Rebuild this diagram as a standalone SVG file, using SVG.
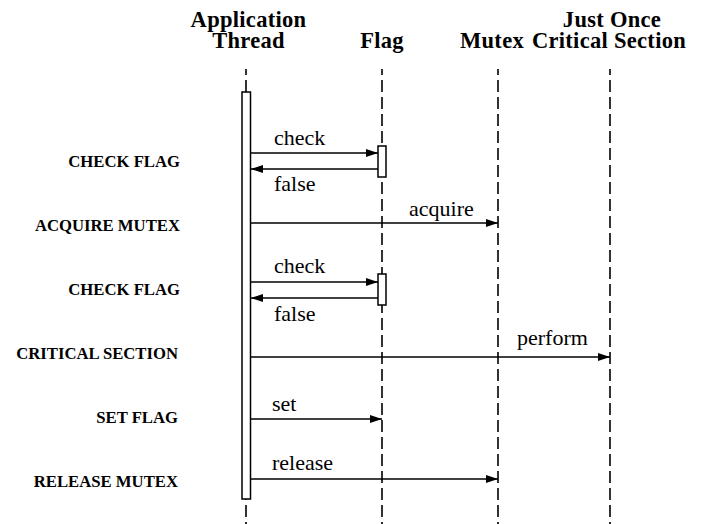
<svg xmlns="http://www.w3.org/2000/svg" width="707" height="524" viewBox="0 0 707 524">
  <style>
    .head { font-family: "Liberation Serif", "Times New Roman", serif; font-weight: bold; font-size: 22.5px; letter-spacing: 0.3px; text-anchor: middle; fill: #000; }
    .step { font-family: "Liberation Serif", "Times New Roman", serif; font-weight: bold; font-size: 16.7px; text-anchor: end; fill: #000; }
    .msg { font-family: "Liberation Serif", "Times New Roman", serif; font-size: 22px; fill: #000; }
    .life { stroke: #000; stroke-width: 1.6; stroke-dasharray: 12 5; stroke-dashoffset: 6; fill: none; }
    .act { fill: #fff; stroke: #000; stroke-width: 1.5; }
    .arrow { stroke: #000; stroke-width: 1.6; fill: none; marker-end: url(#head); }
  </style>
  <defs>
    <marker id="head" markerUnits="userSpaceOnUse" markerWidth="13" markerHeight="9" refX="12" refY="4" orient="auto">
      <path d="M0,0 L12,4 L0,8 z" fill="#000"/>
    </marker>
  </defs>
  <rect width="707" height="524" fill="#fff"/>

  <!-- lifelines with headers -->
  <g id="app-thread">
    <text class="head" x="248.5" y="27">Application<tspan x="248.5" y="48">Thread</tspan></text>
    <line class="life" x1="246" y1="69" x2="246" y2="524"/>
    <rect class="act" x="242" y="92" width="8.5" height="407"/>
  </g>
  <g id="flag">
    <text class="head" x="382" y="48">Flag</text>
    <line class="life" x1="382" y1="69" x2="382" y2="524"/>
    <rect class="act" x="378" y="146" width="8" height="31"/>
    <rect class="act" x="378" y="274" width="8" height="31"/>
  </g>
  <g id="mutex">
    <text class="head" x="492" y="48">Mutex</text>
    <line class="life" x1="498" y1="69" x2="498" y2="524"/>
  </g>
  <g id="critical-section">
    <text class="head" x="612" y="27">Just Once<tspan x="609" y="48">Critical Section</tspan></text>
    <line class="life" x1="610" y1="69" x2="610" y2="524"/>
  </g>

  <!-- step names -->
  <g id="steps">
    <text class="step" x="180" y="167">CHECK FLAG</text>
    <text class="step" x="180" y="231">ACQUIRE MUTEX</text>
    <text class="step" x="180" y="295">CHECK FLAG</text>
    <text class="step" x="178" y="359">CRITICAL SECTION</text>
    <text class="step" x="178" y="423">SET FLAG</text>
    <text class="step" x="178" y="487">RELEASE MUTEX</text>
  </g>

  <!-- messages -->
  <g id="connectors">
    <line class="arrow" x1="250.5" y1="153" x2="378" y2="153"/>
    <line class="arrow" x1="378" y1="169" x2="251" y2="169"/>
    <line class="arrow" x1="250.5" y1="223" x2="498" y2="223"/>
    <line class="arrow" x1="250.5" y1="282" x2="378" y2="282"/>
    <line class="arrow" x1="378" y1="298" x2="251" y2="298"/>
    <line class="arrow" x1="250.5" y1="357" x2="610" y2="357"/>
    <line class="arrow" x1="250.5" y1="419" x2="382" y2="419"/>
    <line class="arrow" x1="250.5" y1="479" x2="498" y2="479"/>
  </g>
  <g id="labels">
    <text class="msg" x="274" y="145">check</text>
    <text class="msg" x="274" y="191">false</text>
    <text class="msg" x="409" y="216">acquire</text>
    <text class="msg" x="274" y="273">check</text>
    <text class="msg" x="274" y="321">false</text>
    <text class="msg" x="517" y="345">perform</text>
    <text class="msg" x="272" y="411">set</text>
    <text class="msg" x="272" y="470">release</text>
  </g>
</svg>
